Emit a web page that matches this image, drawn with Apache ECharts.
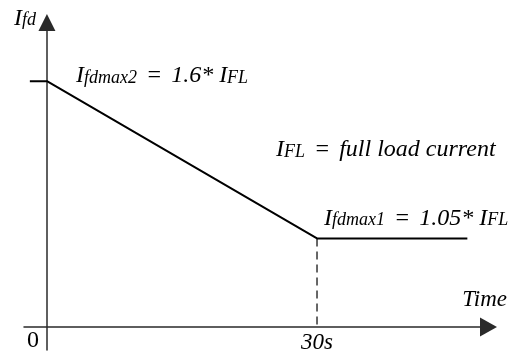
<!DOCTYPE html>
<html>
<head>
<meta charset="utf-8">
<script src="https://cdn.jsdelivr.net/npm/echarts@6/dist/echarts.min.js"></script>
<style>
  html, body { margin: 0; padding: 0; background: #fff; }
  #chart { width: 516px; height: 360px; }
</style>
</head>
<body>
<div id="chart"></div>
<script>
// Field current limit versus time (seconds, multiples of full load current)
const timePoints = [-1.9, 0, 30, 46.7];
const currentLimit = [1.6, 1.6, 1.05, 1.05];
const tickValues = [0, 30];
const tickLabels = ['0', '30s'];
const limitHigh = 1.6;   // Ifdmax2
const limitLow = 1.05;   // Ifdmax1
const rampEnd = 30;      // seconds
const axisBase = 0.74;   // current level where the time axis is drawn

const xMin = -2.55, xMax = 49.05;
const yMin = 0.66, yMax = 1.805;

const FONT = '"Liberation Serif", "Times New Roman", serif';
const ink = '#000';
const axisInk = '#2a2a2a';

// Mixed-size italic text sharing one baseline
const rich = {
  big: { fontFamily: FONT, fontStyle: 'italic', fontWeight: 'normal', fontSize: 24, color: ink, lineHeight: 28, verticalAlign: 'middle' },
  eq:  { fontFamily: FONT, fontStyle: 'italic', fontWeight: 'normal', fontSize: 24, color: ink, lineHeight: 28, verticalAlign: 'middle', padding: [0, 3, 0, 3] },
  sub: { fontFamily: FONT, fontStyle: 'italic', fontWeight: 'normal', fontSize: 18, color: ink, lineHeight: 28, verticalAlign: 'middle', padding: [4, 0, 0, 0] }
};

const lineData = timePoints.map((t, i) => [t, currentLimit[i]]);

const chart = echarts.init(document.getElementById('chart'), null, { renderer: 'canvas' });
chart.setOption({
  animation: false,
  backgroundColor: '#fff',
  title: {
    text: '{big|I}{sub|FL}{eq| = }{big|full load current}',
    left: 271,
    top: 131,
    textStyle: { fontWeight: 'normal', color: ink, rich: rich }
  },
  grid: { left: 24, right: 27.5, top: 22.5, bottom: 10, containLabel: false },
  xAxis: {
    type: 'value',
    min: xMin,
    max: xMax,
    offset: -23,
    name: 'Time',
    nameLocation: 'end',
    nameGap: 18.5,
    nameTextStyle: {
      fontFamily: FONT, fontStyle: 'italic', fontSize: 23, color: ink,
      align: 'right', verticalAlign: 'bottom', padding: [0, 0, 16, 0]
    },
    axisLine: {
      onZero: false,
      symbol: ['none', 'triangle'],
      symbolSize: [19, 17],
      lineStyle: { color: axisInk, width: 1.5 }
    },
    axisTick: { show: false },
    splitLine: { show: false },
    axisLabel: {
      customValues: tickValues,
      margin: 2,
      formatter: function (v) {
        const i = tickValues.indexOf(v);
        return i === 0 ? '{zero|' + tickLabels[0] + '}' : '{t|' + tickLabels[i] + '}';
      },
      rich: {
        zero: { fontFamily: FONT, fontSize: 24, color: ink, padding: [0, 28, 0, 0] },
        t: { fontFamily: FONT, fontStyle: 'italic', fontSize: 23, color: ink, padding: [2, 0, 0, 0] }
      }
    }
  },
  yAxis: {
    type: 'value',
    min: yMin,
    max: yMax,
    name: '{big|I}{sub|fd}',
    nameLocation: 'end',
    nameGap: 0,
    nameTextStyle: {
      align: 'right', verticalAlign: 'middle', padding: [0, 11, 8, 0],
      color: ink, rich: rich
    },
    axisLine: {
      onZero: true,
      symbol: ['none', 'triangle'],
      symbolSize: [17, 17],
      lineStyle: { color: axisInk, width: 1.5 }
    },
    axisTick: { show: false },
    axisLabel: { show: false },
    splitLine: { show: false }
  },
  series: [
    {
      name: 'limit',
      type: 'line',
      data: lineData,
      symbol: 'none',
      lineStyle: { color: ink, width: 2 },
      z: 3
    },
    {
      name: 'ramp end',
      type: 'line',
      data: [[rampEnd, limitLow], [rampEnd, axisBase]],
      symbol: 'none',
      lineStyle: { color: ink, width: 1.2, type: [8, 5] },
      z: 2
    },
    {
      name: 'limits',
      type: 'scatter',
      symbolSize: 0,
      itemStyle: { color: ink, opacity: 1 },
      emphasis: { disabled: true },
      data: [
        {
          value: [0, limitHigh],
          label: {
            show: true, position: [29, -5], verticalAlign: 'middle', align: 'left', color: ink,
            formatter: '{big|I}{sub|fdmax2}{eq| = }{big|1.6* I}{sub|FL}', rich: rich
          }
        },
        {
          value: [rampEnd, limitLow],
          label: {
            show: true, position: [7, -20], verticalAlign: 'middle', align: 'left', color: ink,
            formatter: '{big|I}{sub|fdmax1}{eq| = }{big|1.05* I}{sub|FL}', rich: rich
          }
        }
      ],
      z: 4
    }
  ]
});
</script>
</body>
</html>
